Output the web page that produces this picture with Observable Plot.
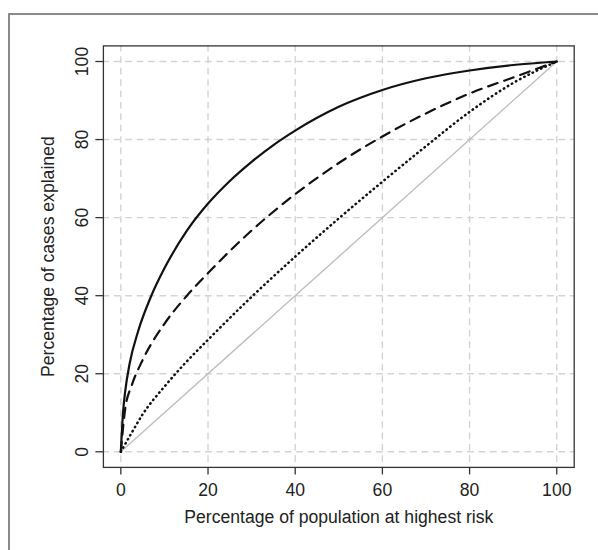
<!DOCTYPE html>
<html><head><meta charset="utf-8">
<script src="https://cdn.jsdelivr.net/npm/d3@7"></script>
<script src="https://cdn.jsdelivr.net/npm/@observablehq/plot@0.6"></script>
<style>
html,body{margin:0;padding:0;background:#fff;}
#wrap{position:relative;width:598px;height:550px;overflow:hidden;background:#fff;}
#frame{position:absolute;left:8px;top:13px;width:900px;height:900px;border:2px solid #8a8a8a;box-sizing:border-box;}
#chart{position:absolute;left:0;top:0;}
</style></head><body>
<div id="wrap"><div id="frame"></div><div id="chart"></div></div>
<script>
const xTicks = [0, 20, 40, 60, 80, 100];
const yTicks = [0, 20, 40, 60, 80, 100];
const xTitle = "Percentage of population at highest risk";
const yTitle = "Percentage of cases explained";

const solidX = [0, 0.5, 1, 2, 4, 7, 10, 15, 20, 25, 30, 35, 40, 50, 60, 70, 80, 90, 100];
const solidY = [0, 10, 15.5, 22.5, 31, 40, 47, 56.4, 63.6, 69.4, 74.3, 78.6, 82.3, 88.4, 92.7, 95.7, 97.7, 99.1, 100];

const dashedX = [0, 1, 2.5, 5, 10, 15, 20, 30, 40, 50, 60, 70, 80, 90, 100];
const dashedY = [0, 11, 17, 23.5, 32.8, 39.8, 45.8, 56.7, 66, 74, 80.8, 86.7, 91.8, 95.9, 100];

const dottedX = [0, 2.5, 5, 10, 15, 20, 30, 40, 50, 60, 70, 80, 90, 100];
const dottedY = [0, 4.9, 9.6, 16.7, 23, 28.7, 39.7, 50, 59.8, 69.2, 78.3, 87.1, 94.5, 100];

const diagX = [0, 100];
const diagY = [0, 100];

const toRows = (xs, ys) => xs.map((x, i) => ({x, y: ys[i]}));
const solid = toRows(solidX, solidY);
const dashed = toRows(dashedX, dashedY);
const dotted = toRows(dottedX, dottedY);
const diag = toRows(diagX, diagY);

const FS = 17.6;
const gridStyle = {stroke: "#d3d3d3", strokeOpacity: 1, strokeWidth: 1.4, strokeDasharray: "5.7,5.7", strokeLinecap: "round"};

const plot = Plot.plot({
  width: 598, height: 550,
  marginLeft: 102.9, marginRight: 24.3, marginTop: 45.4, marginBottom: 83.1,
  style: {fontFamily: "'Liberation Sans', Arial, Helvetica, sans-serif", fontSize: FS + "px", color: "#222", background: "transparent"},
  x: {domain: [-4, 104]},
  y: {domain: [-4, 104]},
  marks: [
    Plot.gridX(xTicks, gridStyle),
    Plot.gridY(yTicks, gridStyle),
    Plot.line(diag, {x: "x", y: "y", stroke: "#bebebe", strokeWidth: 1.4}),
    Plot.line(dotted, {x: "x", y: "y", stroke: "#111", strokeWidth: 2.5, strokeDasharray: "0.5,4.2", strokeLinecap: "round", curve: "monotone-x"}),
    Plot.line(dashed, {x: "x", y: "y", stroke: "#111", strokeWidth: 2.2, strokeDasharray: "10,7", strokeLinecap: "round", curve: "monotone-x"}),
    Plot.line(solid, {x: "x", y: "y", stroke: "#111", strokeWidth: 2.2, curve: "monotone-x"}),
    Plot.frame({stroke: "#333", strokeWidth: 1.3}),
    Plot.axisX(xTicks, {tickSize: 7.5, tickPadding: 9, stroke: "#333", strokeWidth: 1.3, fontSize: FS, label: null}),
    Plot.axisY(yTicks, {tickSize: 7.5, tickPadding: 20, tickRotate: -90, textAnchor: "middle", lineAnchor: "top", stroke: "#333", strokeWidth: 1.3, fontSize: FS, label: null}),
    Plot.text([xTitle], {frameAnchor: "bottom", textAnchor: "middle", lineAnchor: "top", dy: 43.4, fontSize: FS, fill: "#222"}),
    Plot.text([yTitle], {frameAnchor: "left", rotate: -90, textAnchor: "middle", lineAnchor: "top", dx: -61.5, fontSize: FS, fill: "#222"})
  ]
});
document.getElementById("chart").appendChild(plot);
</script>
</body></html>
